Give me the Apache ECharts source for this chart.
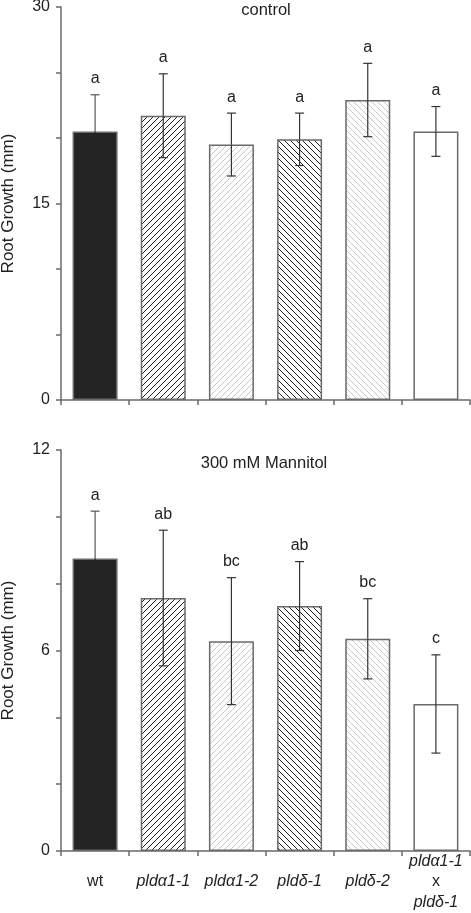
<!DOCTYPE html>
<html>
<head>
<meta charset="utf-8">
<script src="https://cdn.jsdelivr.net/npm/echarts@6/dist/echarts.min.js"></script>
<style>html,body{margin:0;padding:0;background:#fff}#c{width:471px;height:913px}</style>
</head>
<body>
<div id="c"></div>
<script>
// ---- data ----
const categories = ['wt', 'pldα1-1', 'pldα1-2', 'pldδ-1', 'pldδ-2', 'pldα1-1 x pldδ-1'];
const controlMean = [20.5, 21.7, 19.5, 19.9, 22.9, 20.5];
const controlErr = [2.8, 3.2, 2.4, 2.0, 2.8, 1.9];
const controlLetters = ['a', 'a', 'a', 'a', 'a', 'a'];
const mannitolMean = [8.75, 7.57, 6.28, 7.33, 6.35, 4.40];
const mannitolErr = [1.42, 2.03, 1.9, 1.33, 1.2, 1.47];
const mannitolLetters = ['a', 'ab', 'bc', 'ab', 'bc', 'c'];
const controlTicks = [0, 15, 30];
const mannitolTicks = [0, 6, 12];

const FONT = '"Liberation Sans", Arial, Helvetica, sans-serif';

function hatch(dir, color) {
  const s = 6;
  const c = document.createElement('canvas');
  c.width = s; c.height = s;
  const g = c.getContext('2d');
  g.fillStyle = '#fff'; g.fillRect(0, 0, s, s);
  g.strokeStyle = color; g.lineWidth = 1;
  g.beginPath();
  if (dir === '/') {
    g.moveTo(-1, s + 1); g.lineTo(s + 1, -1);
    g.moveTo(-1, 1); g.lineTo(1, -1);
    g.moveTo(s - 1, s + 1); g.lineTo(s + 1, s - 1);
  } else {
    g.moveTo(-1, -1); g.lineTo(s + 1, s + 1);
    g.moveTo(s - 1, -1); g.lineTo(s + 1, 1);
    g.moveTo(-1, s - 1); g.lineTo(1, s + 1);
  }
  g.stroke();
  return { image: c, repeat: 'repeat' };
}

const BLACK = '#242424';
const fills = [
  BLACK,
  hatch('/', '#222'),
  hatch('/', '#c8c8c8'),
  hatch('\\', '#222'),
  hatch('\\', '#c8c8c8'),
  '#ffffff'
];

function labelFmt(v) {
  if (v.indexOf(' x ') >= 0) {
    const p = v.split(' x ');
    return '{i|' + p[0] + '}\n{n|x}\n{i|' + p[1] + '}';
  }
  if (v === 'wt') return '{n|wt}';
  return '{i|' + v + '}';
}

function makeBars(mean, gi) {
  return {
    type: 'bar', xAxisIndex: gi, yAxisIndex: gi,
    barWidth: 45,
    data: mean.map((v, i) => ({
      value: v,
      itemStyle: { color: fills[i], borderColor: '#6a6a6a', borderWidth: 1.5 }
    })),
    z: 2
  };
}

function makeErr(mean, err, letters, gi) {
  return {
    type: 'custom', xAxisIndex: gi, yAxisIndex: gi, z: 5,
    data: mean.map((v, i) => [i, v, err[i], letters[i]]),
    renderItem: function (params, api) {
      const i = api.value(0), m = api.value(1), e = api.value(2);
      const top = api.coord([i, m + e]);
      const mid = api.coord([i, m]);
      const bot = api.coord([i, m - e]);
      const w = 4.5;
      const upCol = i === 0 ? '#555' : '#333';
      const lowCol = i === 0 ? BLACK : '#333';
      const up = { stroke: upCol, lineWidth: 1.2 };
      const lo = { stroke: lowCol, lineWidth: 1.2 };
      return {
        type: 'group',
        children: [
          { type: 'line', shape: { x1: top[0], y1: top[1], x2: mid[0], y2: mid[1] }, style: up },
          { type: 'line', shape: { x1: mid[0], y1: mid[1], x2: bot[0], y2: bot[1] }, style: lo },
          { type: 'line', shape: { x1: top[0] - w, y1: top[1], x2: top[0] + w, y2: top[1] }, style: up },
          { type: 'line', shape: { x1: bot[0] - w, y1: bot[1], x2: bot[0] + w, y2: bot[1] }, style: lo },
          { type: 'text', style: { text: letters[i], x: top[0], y: top[1] - 8, align: 'center', verticalAlign: 'bottom', fontSize: 16, fontFamily: FONT, fill: '#222' } }
        ]
      };
    }
  };
}

const axisLineStyle = { color: '#6a6a6a', width: 1.5 };

function yAxis(gi, max, interval, ticks) {
  return {
    type: 'value', gridIndex: gi, min: 0, max: max, interval: interval,
    name: 'Root Growth (mm)', nameLocation: 'middle', nameGap: 44, nameRotate: 90,
    nameTextStyle: { fontSize: 17, fontFamily: FONT, color: '#222' },
    axisLine: { show: true, lineStyle: axisLineStyle },
    axisTick: { show: true, length: 5, lineStyle: axisLineStyle },
    splitLine: { show: false },
    axisLabel: {
      fontSize: 16, fontFamily: FONT, color: '#222', margin: 11,
      formatter: v => ticks.indexOf(v) >= 0 ? String(v) : ''
    }
  };
}

function xAxis(gi, showLabels) {
  return {
    type: 'category', gridIndex: gi, data: categories,
    axisLine: { show: true, lineStyle: axisLineStyle },
    axisTick: { show: true, length: 5, lineStyle: axisLineStyle },
    axisLabel: {
      show: showLabels, interval: 0, margin: 31, verticalAlign: 'middle',
      formatter: labelFmt, lineHeight: 20.5,
      rich: {
        i: { fontStyle: 'italic', fontSize: 16, fontFamily: FONT, color: '#222', lineHeight: 20.5 },
        n: { fontSize: 16, fontFamily: FONT, color: '#222', lineHeight: 20.5 }
      }
    }
  };
}

const chart = echarts.init(document.getElementById('c'), null, { renderer: 'canvas' });
chart.setOption({
  animation: false,
  backgroundColor: '#fff',
  grid: [
    { left: 61, width: 409, top: 7, height: 393, outerBoundsMode: 'none', containLabel: false },
    { left: 61, width: 409, top: 450, height: 401, outerBoundsMode: 'none', containLabel: false }
  ],
  graphic: [
    { type: 'text', x: 266, y: 10, style: { text: 'control', x: 0, y: 0, align: 'center', verticalAlign: 'middle', fontSize: 16.5, fontFamily: FONT, fill: '#222' } },
    { type: 'text', x: 264, y: 463, style: { text: '300 mM Mannitol', x: 0, y: 0, align: 'center', verticalAlign: 'middle', fontSize: 16.5, fontFamily: FONT, fill: '#222' } }
  ],
  xAxis: [xAxis(0, false), xAxis(1, true)],
  yAxis: [yAxis(0, 30, 5, controlTicks), yAxis(1, 12, 2, mannitolTicks)],
  series: [
    makeBars(controlMean, 0),
    makeErr(controlMean, controlErr, controlLetters, 0),
    makeBars(mannitolMean, 1),
    makeErr(mannitolMean, mannitolErr, mannitolLetters, 1)
  ]
});
</script>
</body>
</html>
